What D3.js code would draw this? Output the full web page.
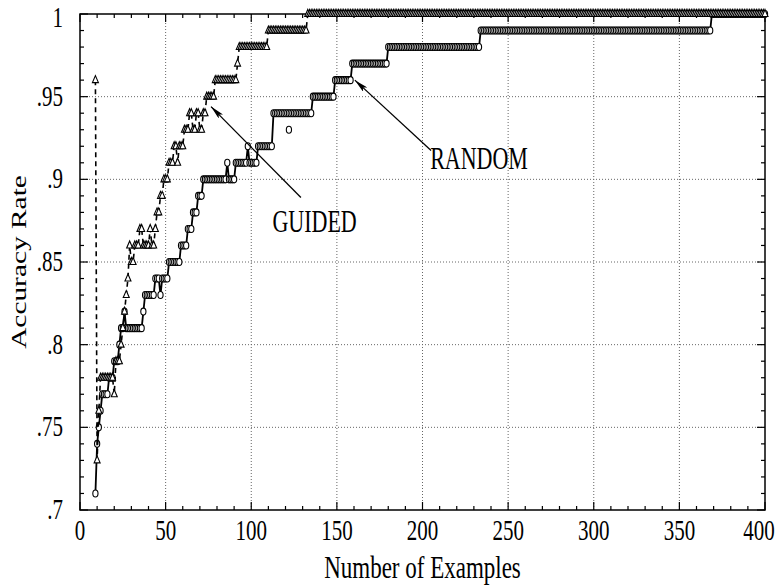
<!DOCTYPE html>
<html>
<head>
<meta charset="utf-8">
<script src="https://cdn.jsdelivr.net/npm/d3@7"></script>
<style>
  body { margin: 0; background: #fff; }
</style>
</head>
<body>
<div id="chart"></div>
<script>
// Constants
const w = 776;
const h = 585;
const plot = { left: 80, right: 765, top: 14, bottom: 510 };
const stretch = 1.4; // the original figure is squeezed horizontally

// Step data: a run starts at n and holds until the next start
const guidedStart = [9, 10, 11, 12, 20, 21, 24, 25, 26, 27, 28, 29, 30, 32, 35, 37, 41, 42, 44, 45, 47, 49, 52, 55, 57, 58, 61, 64, 66, 68, 70, 72, 74, 79, 92, 93, 110, 133];
const guidedLevel = [.96, .73, .76, .78, .77, .79, .80, .81, .82, .83, .84, .86, .85, .86, .87, .86, .87, .86, .87, .88, .89, .90, .91, .92, .91, .92, .93, .94, .93, .94, .93, .94, .95, .96, .97, .98, .99, 1.00];

const randomStart = [9, 10, 11, 12, 13, 17, 20, 23, 24, 26, 27, 37, 38, 44, 47, 48, 52, 59, 63, 66, 69, 72, 86, 87, 91, 98, 99, 104, 113, 136, 149, 159, 180, 234, 369];
const randomLevel = [.71, .74, .75, .76, .77, .78, .79, .80, .81, .82, .81, .82, .83, .84, .83, .84, .85, .86, .87, .88, .89, .90, .91, .90, .91, .92, .91, .92, .94, .95, .96, .97, .98, .99, 1.00];
const randomStrayN = [122];
const randomStrayV = [.93];

const lastN = 400;

const xTicks = [0, 50, 100, 150, 200, 250, 300, 350, 400];
const xTickLabels = ["0", "50", "100", "150", "200", "250", "300", "350", "400"];
const yTicks = [.7, .75, .8, .85, .9, .95, 1];
const yTickLabels = [".7", ".75", ".8", ".85", ".9", ".95", "1"];

// Arrows: tail (n, v) -> tip (n, v); label at (n, v)
const annotations = [
  { label: "GUIDED", tailN: 129, tailV: .889, tipN: 76.5, tipV: .944, textN: 137, textV: .868 },
  { label: "RANDOM", tailN: 205, tailV: .9175, tipN: 160.5, tipV: .960, textN: 233, textV: .9065 }
];

const xScale = d3.scaleLinear().domain([0, 400]).range([plot.left, plot.right]);
const yScale = d3.scaleLinear().domain([0.7, 1]).range([plot.bottom, plot.top]);

// Expand the runs into one point per example
function expandRuns(starts, levels) {
  const pts = [];
  starts.forEach((s, i) => {
    const end = i < starts.length - 1 ? starts[i + 1] - 1 : lastN;
    for (let n = s; n <= end; n++) pts.push({ n: n, v: levels[i] });
  });
  return pts;
}
const guided = expandRuns(guidedStart, guidedLevel);
const random = expandRuns(randomStart, randomLevel);
const stray = randomStrayN.map((n, i) => ({ n: n, v: randomStrayV[i] }));

const svg = d3.select("#chart").append("svg")
  .attr("width", w)
  .attr("height", h)
  .style("background-color", "white");

svg.append("defs").append("marker")
  .attr("id", "head")
  .attr("viewBox", "0 0 14 6")
  .attr("refX", 14)
  .attr("refY", 3)
  .attr("markerWidth", 14)
  .attr("markerHeight", 6)
  .attr("markerUnits", "userSpaceOnUse")
  .attr("orient", "auto")
  .append("path")
  .attr("d", "M0,0 L14,3 L0,6 L3,3 Z")
  .attr("fill", "black");

// Grid
const grid = svg.append("g").attr("stroke", "#666").attr("stroke-width", 1).attr("stroke-dasharray", "1,2");
xTicks.slice(1, -1).forEach(t => {
  grid.append("line").attr("x1", xScale(t)).attr("x2", xScale(t)).attr("y1", plot.top).attr("y2", plot.bottom);
});
yTicks.slice(1, -1).forEach(t => {
  grid.append("line").attr("x1", plot.left).attr("x2", plot.right).attr("y1", yScale(t)).attr("y2", yScale(t));
});

// Ticks on all four sides, pointing inward
const minorX = d3.range(0, 401, 10);
const minorY = d3.range(70, 101, 1).map(d => d / 100);
const ticks = svg.append("g").attr("stroke", "black").attr("stroke-width", 1.2);
minorX.forEach(t => {
  const len = t % 50 === 0 ? 8 : 4;
  ticks.append("line").attr("x1", xScale(t)).attr("x2", xScale(t)).attr("y1", plot.bottom).attr("y2", plot.bottom - len);
  ticks.append("line").attr("x1", xScale(t)).attr("x2", xScale(t)).attr("y1", plot.top).attr("y2", plot.top + len);
});
minorY.forEach((t, i) => {
  const len = i % 5 === 0 ? 8 : 4;
  ticks.append("line").attr("x1", plot.left).attr("x2", plot.left + len).attr("y1", yScale(t)).attr("y2", yScale(t));
  ticks.append("line").attr("x1", plot.right).attr("x2", plot.right - len).attr("y1", yScale(t)).attr("y2", yScale(t));
});

// Frame
svg.append("rect")
  .attr("x", plot.left).attr("y", plot.top)
  .attr("width", plot.right - plot.left).attr("height", plot.bottom - plot.top)
  .attr("fill", "none").attr("stroke", "black").attr("stroke-width", 1.5);

const line = d3.line().x(d => xScale(d.n)).y(d => yScale(d.v));

// RANDOM: solid line with circles
svg.append("path").datum(random)
  .attr("d", line).attr("fill", "none").attr("stroke", "black").attr("stroke-width", 1.8);
svg.append("g").selectAll("ellipse").data(random.concat(stray)).join("ellipse")
  .attr("cx", d => xScale(d.n)).attr("cy", d => yScale(d.v))
  .attr("rx", 2.6).attr("ry", 3.5)
  .attr("fill", "white").attr("stroke", "black").attr("stroke-width", 1.1);

// GUIDED: dashed line with triangles
svg.append("path").datum(guided)
  .attr("d", line).attr("fill", "none").attr("stroke", "black").attr("stroke-width", 1.6)
  .attr("stroke-dasharray", "5,4");
svg.append("g").selectAll("path").data(guided).join("path")
  .attr("d", d => {
    const x = xScale(d.n), y = yScale(d.v);
    return `M${x},${y - 4.5} L${x + 3},${y + 2.5} L${x - 3},${y + 2.5} Z`;
  })
  .attr("fill", "white").attr("stroke", "black").attr("stroke-width", 1.1);

// Text helper: vertically stretched serif text
function stretchedText(x, y, str, size, anchor) {
  return svg.append("text")
    .attr("transform", `translate(${x},${y}) scale(1,${stretch})`)
    .attr("text-anchor", anchor)
    .style("font-family", "'Liberation Serif', 'Times New Roman', serif")
    .style("font-size", size + "px")
    .attr("fill", "black")
    .text(str);
}

xTicks.forEach((t, i) => stretchedText(Math.min(xScale(t), 759), 540, xTickLabels[i], 21, "middle"));
yTicks.forEach((t, i) => stretchedText(63, Math.max(yScale(t) + 9, 27), yTickLabels[i], 21, "end"));

stretchedText((plot.left + plot.right) / 2, 578, "Number of Examples", 23, "middle");
svg.append("text")
  .attr("transform", `translate(26,${(plot.top + plot.bottom) / 2}) scale(1,${stretch}) rotate(-90)`)
  .attr("text-anchor", "middle")
  .style("font-family", "'Liberation Serif', 'Times New Roman', serif")
  .style("font-size", "21px")
  .text("Accuracy Rate");

// Annotations
annotations.forEach(a => {
  svg.append("line")
    .attr("x1", xScale(a.tailN)).attr("y1", yScale(a.tailV))
    .attr("x2", xScale(a.tipN)).attr("y2", yScale(a.tipV))
    .attr("stroke", "black").attr("stroke-width", 1.3)
    .attr("marker-end", "url(#head)");
  stretchedText(xScale(a.textN), yScale(a.textV), a.label, 22, "middle");
});
</script>
</body>
</html>
